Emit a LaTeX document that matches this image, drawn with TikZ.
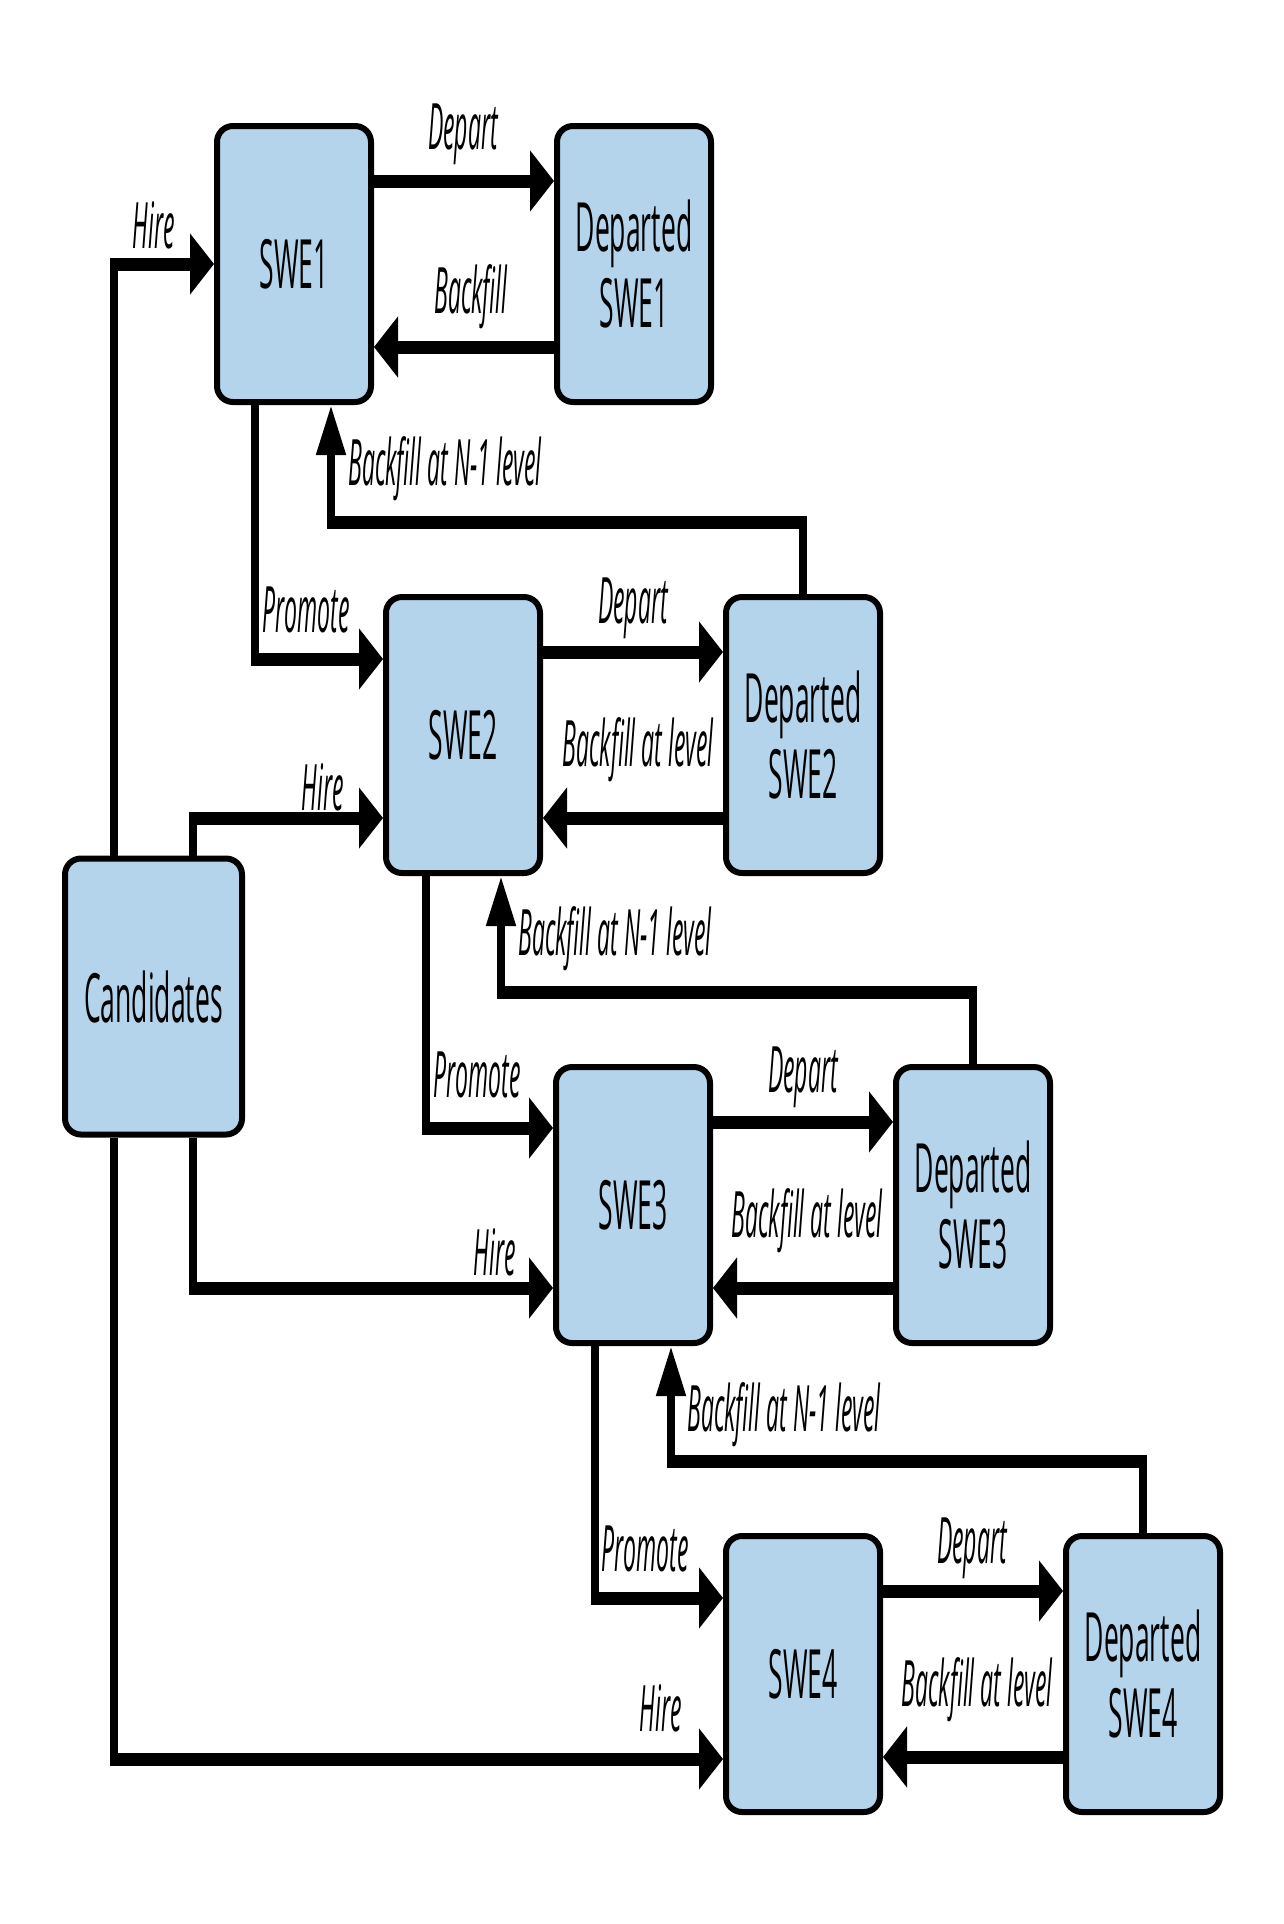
\documentclass[tikz,border=0pt]{standalone}
\usepackage{fontspec}
\setmainfont{Open Sans}[FakeStretch=0.39]
\newfontfamily\lblfont{Open Sans}[FakeStretch=0.36]
\usetikzlibrary{arrows.meta}
\definecolor{boxblue}{RGB}{179,212,235}
\begin{document}
\begin{tikzpicture}[x=0.5pt,y=-0.5pt,
  box/.style={draw, line width=3pt, fill=boxblue, rounded corners=8pt,
    minimum width=77pt, minimum height=138pt, align=center,
    font=\fontsize{34}{38}\selectfont, inner sep=0pt},
  hconn/.style={line width=6.5pt, -{Triangle[length=12pt,width=30pt]}},
  hline/.style={line width=6.5pt},
  vconn/.style={line width=4pt, -{Triangle[length=25pt,width=14pt]}},
  vline/.style={line width=4pt},
  lbl/.style={font=\lblfont\itshape\fontsize{32}{36}\selectfont, inner sep=0pt}]
\useasboundingbox (0,0) rectangle (1284,1924);
% boxes
\node[box] (S1) at (294,264) {SWE1};
\node[box] (D1) at (634,264) {Departed\\SWE1};
\node[box] (S2) at (463,735) {SWE2};
\node[box] (D2) at (803,735) {Departed\\SWE2};
\node[box] (S3) at (633,1205) {SWE3};
\node[box] (D3) at (973,1205) {Departed\\SWE3};
\node[box] (S4) at (803,1674) {SWE4};
\node[box] (D4) at (1143,1674) {Departed\\SWE4};
\node[box, minimum width=88.5pt] (C) at (153.5,996.5) {Candidates};
% bend coordinates
\coordinate (h1) at (114,264);
\coordinate (h2) at (193,818);
\coordinate (h3) at (193,1288);
\coordinate (h4) at (114,1759);
\coordinate (p1) at (255,659);
\coordinate (p2) at (426,1128);
\coordinate (p3) at (595,1598);
\coordinate (b1) at (331,522);
\coordinate (b2) at (501,992);
\coordinate (b3) at (671,1461);
% depart / backfill
\foreach \s/\d in {S1/D1,S2/D2,S3/D3,S4/D4}{
  \draw[hconn] ([yshift=41.5pt]\s.east) -- ([yshift=41.5pt]\d.west);
  \draw[hconn] ([yshift=-41.5pt]\d.west) -- ([yshift=-41.5pt]\s.east);
}
% hire (up from candidates)
\draw[vline] (C.north -| h1) -- ([yshift=3.25pt]h1);
\draw[hconn] ([xshift=-2pt]h1) -- (S1.west |- h1);
\draw[vline] (C.north -| h2) -- ([yshift=3.25pt]h2);
\draw[hconn] ([xshift=-2pt]h2) -- (S2.west |- h2);
% hire (down from candidates)
\draw[vline] (C.south -| h3) -- ([yshift=-3.25pt]h3);
\draw[hconn] ([xshift=-2pt]h3) -- (S3.west |- h3);
\draw[vline] (C.south -| h4) -- ([yshift=-3.25pt]h4);
\draw[hconn] ([xshift=-2pt]h4) -- (S4.west |- h4);
% promote
\draw[vline] (S1.south -| p1) -- ([yshift=-3.25pt]p1);
\draw[hconn] ([xshift=-2pt]p1) -- (S2.west |- p1);
\draw[vline] (S2.south -| p2) -- ([yshift=-3.25pt]p2);
\draw[hconn] ([xshift=-2pt]p2) -- (S3.west |- p2);
\draw[vline] (S3.south -| p3) -- ([yshift=-3.25pt]p3);
\draw[hconn] ([xshift=-2pt]p3) -- (S4.west |- p3);
% backfill at N-1
\foreach \d/\b/\s in {D2/b1/S1,D3/b2/S2,D4/b3/S3}{
  \draw[vline] (\d.north) -- ([yshift=3.25pt]\d.north |- \b);
  \draw[hline] ([xshift=2pt]\d.north |- \b) -- ([xshift=-2pt]\b);
  \draw[vconn] (\b) -- (\s.south -| \b);
}
% labels
\node[lbl] (l1) at (154,225) {Hire};
\node[lbl] (l2) at (463,134) {Depart};
\node[lbl] (l3) at (471,297) {Backfill};
\node[lbl,anchor=west] (l4) at (348,469) {Backfill at N-1 level};
\node[lbl,anchor=west] (l5) at (262,610) {Promote};
\node[lbl] (l6) at (633,608) {Depart};
\node[lbl] (l7) at (638,750) {Backfill at level};
\node[lbl,anchor=east] (l8) at (344,787) {Hire};
\node[lbl,anchor=west] (l9) at (518,939) {Backfill at N-1 level};
\node[lbl,anchor=west] (l10) at (433,1075) {Promote};
\node[lbl] (l11) at (803,1077) {Depart};
\node[lbl] (l12) at (807,1221) {Backfill at level};
\node[lbl,anchor=east] (l13) at (516,1252) {Hire};
\node[lbl,anchor=west] (l14) at (687,1415) {Backfill at N-1 level};
\node[lbl,anchor=west] (l15) at (601,1549) {Promote};
\node[lbl] (l16) at (972,1548) {Depart};
\node[lbl] (l17) at (977,1690) {Backfill at level};
\node[lbl,anchor=east] (l18) at (682,1708) {Hire};
\end{tikzpicture}
\end{document}
